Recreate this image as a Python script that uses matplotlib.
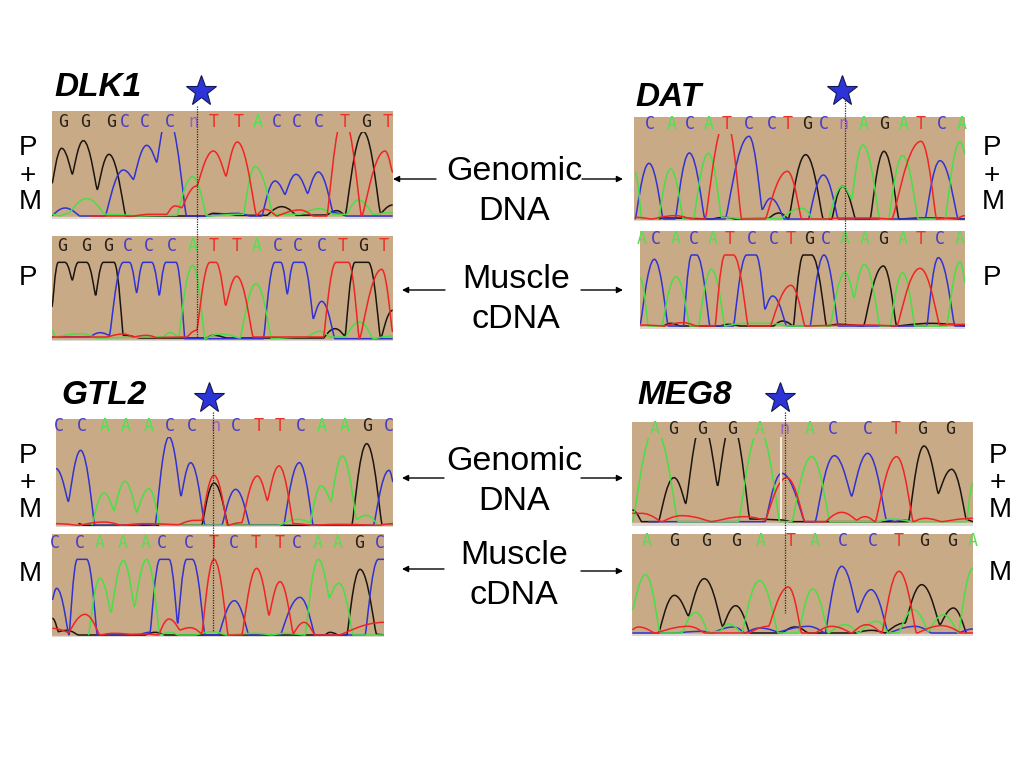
import matplotlib
matplotlib.use("Agg")
from matplotlib import pyplot as plt
from matplotlib.patches import PathPatch, Rectangle
from matplotlib.path import Path

# traces: (scan position, signal) at each peak and valley
dlk1_gen_g = [(36,98),(65,203),(97,126),(130,226),(172,80),(207,185),(258,0),(500,0),(520,8),(555,6),(590,2),(680,2),(725,28),(770,2),(860,3),(890,16),(915,2),(970,253),(1022,8),(1058,33)]
dlk1_gen_c = [(36,2),(75,24),(120,0),(195,0),(250,138),(280,110),(320,212),(350,162),(383,300),(440,0),(500,0),(590,8),(630,0),(665,0),(705,105),(735,65),(768,125),(803,68),(835,132),(880,10),(920,0),(1058,0)]
dlk1_gen_a = [(36,5),(60,0),(85,8),(140,52),(195,5),(300,0),(410,2),(458,118),(500,0),(610,5),(645,148),(700,5),(780,5),(840,22),(880,5),(920,5),(955,48),(1000,5),(1058,10)]
dlk1_gen_t = [(150,0),(280,0),(330,5),(380,5),(405,30),(425,25),(470,90),(520,195),(558,120),(592,222),(650,2),(675,20),(710,0),(780,18),(820,0),(860,0),(910,300),(965,0),(1035,195),(1058,130)]

dlk1_cdna_g = [(36,95),(55,229),(75,229),(97,175),(115,229),(140,229),(167,130),(190,229),(222,229),(250,10),(300,2),(500,2),(520,10),(560,2),(850,2),(885,30),(915,8),(945,229),(985,229),(1022,0),(1058,85)]
dlk1_cdna_c = [(36,5),(150,6),(180,18),(208,10),(250,229),(268,229),(290,137),(310,229),(335,229),(358,130),(378,229),(408,229),(435,0),(670,0),(705,229),(722,229),(742,133),(762,229),(790,229),(820,60),(845,112),(885,0),(1058,0)]
dlk1_cdna_a = [(36,25),(45,5),(125,15),(170,2),(370,5),(390,18),(415,5),(458,220),(495,0),(540,14),(600,2),(648,165),(695,0),(800,5),(840,22),(870,5),(915,5),(958,50),(1000,0),(1058,8)]
dlk1_cdna_t = [(36,5),(200,5),(250,14),(280,5),(320,10),(350,3),(440,5),(470,25),(510,229),(528,229),(557,100),(590,187),(640,5),(850,5),(888,229),(925,229),(958,0),(1025,208),(1058,20)]

dat_gen_c = [(30,0),(72,167),(115,0),(150,0),(193,198),(240,0),(300,0),(372,248),(412,28),(437,62),(478,0),(550,0),(595,132),(640,0),(830,0),(900,0),(945,175),(1000,0),(1020,0)]
dat_gen_a = [(30,140),(50,0),(100,0),(137,150),(175,0),(205,0),(250,197),(290,5),(345,2),(420,2),(465,0),(530,32),(565,0),(610,0),(652,98),(680,60),(713,222),(765,0),(790,0),(833,190),(880,0),(960,0),(1005,232),(1020,195)]
dat_gen_t = [(30,5),(80,0),(150,10),(200,0),(240,0),(303,300),(350,0),(420,0),(487,143),(530,0),(600,0),(660,3),(730,3),(800,0),(888,233),(935,0),(1000,3),(1020,10)]
dat_gen_g = [(100,0),(120,3),(260,0),(300,5),(330,0),(430,2),(462,18),(490,0),(542,193),(595,0),(620,0),(652,98),(692,0),(735,0),(777,203),(822,0),(900,3),(1020,0)]

dat_cdna_c = [(30,5),(73,200),(115,0),(160,0),(185,213),(200,213),(240,0),(310,0),(350,213),(378,213),(405,50),(428,90),(470,0),(540,0),(582,213),(625,0),(890,0),(925,205),(975,0),(1005,0)]
dat_cdna_a = [(30,145),(55,0),(95,0),(138,148),(180,0),(205,0),(245,170),(285,0),(345,8),(420,8),(470,0),(600,0),(645,160),(672,85),(703,185),(750,0),(780,0),(818,160),(855,0),(950,0),(990,193),(1005,130)]
dat_cdna_t = [(30,3),(100,0),(158,10),(200,0),(255,0),(285,213),(310,213),(355,0),(420,0),(483,122),(525,0),(700,3),(800,0),(870,173),(930,3),(1005,5)]
dat_cdna_g = [(100,0),(122,8),(150,0),(270,0),(295,5),(330,0),(430,0),(458,15),(490,0),(520,213),(545,213),(590,0),(625,5),(700,0),(760,180),(800,0),(905,8),(960,5),(1005,0)]

gtl2_gen_c = [(33,170),(70,72),(107,225),(150,0),(280,0),(295,3),(330,0),(372,265),(408,88),(437,188),(480,0),(530,0),(572,108),(615,0),(715,0),(763,188),(805,0),(985,0),(1032,165),(1044,130)]
gtl2_gen_a = [(140,0),(177,97),(207,45),(240,132),(275,40),(312,110),(345,0),(700,0),(760,18),(795,8),(828,118),(858,72),(892,208),(935,18),(965,30),(1000,0),(1044,0)]
gtl2_gen_t = [(33,5),(100,0),(177,10),(230,0),(300,5),(400,2),(450,15),(470,15),(507,150),(548,0),(590,8),(637,148),(667,75),(702,178),(745,5),(800,0),(880,3),(1000,0),(1044,5)]
gtl2_gen_g = [(100,5),(115,0),(300,0),(470,0),(507,127),(550,0),(870,0),(920,0),(965,245),(1012,0),(1044,0)]

gtl2_cdna_c = [(22,105),(35,140),(72,0),(97,227),(125,227),(157,0),(280,0),(315,8),(345,227),(372,227),(398,35),(425,227),(442,227),(480,0),(520,0),(568,103),(612,0),(705,0),(765,113),(810,0),(960,0),(1000,227),(1017,227)]
gtl2_cdna_a = [(130,0),(165,170),(198,68),(235,223),(268,85),(305,227),(345,0),(375,8),(400,0),(450,0),(500,10),(545,0),(630,5),(680,0),(720,5),(780,0),(820,227),(853,112),(882,155),(925,0),(1017,0)]
gtl2_cdna_t = [(22,20),(70,8),(120,62),(165,0),(205,5),(260,2),(300,3),(340,0),(372,48),(405,15),(435,22),(470,5),(507,227),(550,0),(590,0),(635,200),(672,60),(705,160),(745,5),(777,38),(810,0),(880,0),(1017,38)]
gtl2_cdna_g = [(22,50),(40,10),(65,14),(100,0),(300,0),(330,8),(360,0),(840,0),(855,8),(880,0),(905,0),(945,197),(995,2),(1017,0)]

meg8_gen_a = [(22,0),(90,280),(160,0),(340,0),(403,275),(465,0),(500,0),(560,195),(615,0),(760,0),(800,8),(860,0),(1025,0),(1044,115)]
meg8_gen_g = [(22,35),(50,0),(100,0),(147,132),(182,55),(232,300),(278,108),(320,300),(375,8),(470,5),(495,0),(850,0),(897,227),(940,85),(980,157),(1025,5),(1044,0)]
meg8_gen_c = [(70,0),(105,0),(420,0),(470,145),(540,0),(570,0),(628,198),(680,77),(728,205),(785,5),(810,0),(835,5),(860,0)]
meg8_gen_t = [(22,25),(50,25),(110,0),(170,18),(260,0),(360,15),(420,5),(485,132),(540,0),(600,0),(650,28),(695,5),(720,15),(750,0),(815,195),(865,0),(900,10),(950,0),(1044,10)]

meg8_cdna_a = [(22,70),(62,175),(105,0),(170,0),(212,62),(250,0),(285,5),(310,27),(350,0),(403,157),(460,0),(520,0),(563,132),(610,0),(660,25),(700,0),(755,35),(790,0),(820,0),(865,70),(910,5),(955,55),(1000,0),(1044,195)]
meg8_cdna_g = [(100,0),(148,113),(190,52),(238,163),(293,20),(332,82),(375,0),(470,0),(510,18),(550,0),(690,0),(740,8),(780,0),(840,30),(890,145),(945,25),(985,75),(1025,0)]
meg8_cdna_c = [(22,0),(150,0),(230,5),(260,0),(325,18),(360,0),(405,15),(460,3),(550,20),(600,0),(650,200),(698,62),(738,130),(790,0),(870,20),(920,0),(1000,0),(1044,12)]
meg8_cdna_t = [(22,10),(40,18),(90,0),(190,20),(240,0),(370,0),(430,20),(490,138),(530,0),(570,0),(620,20),(680,0),(725,25),(770,0),(822,185),(875,0),(950,22),(1010,0),(1044,0)]

# base calls and the scan position they sit at
dlk1_gen_bases = list("GGGCCCnTTACCCTGT")
dlk1_gen_pos = [68,135,212,255,315,390,460,522,597,652,710,772,838,913,978,1042]
dlk1_cdna_bases = list("GGGCCCATTACCCTGT")
dlk1_cdna_pos = [65,138,203,265,328,397,457,522,590,650,713,775,847,907,970,1030]
dat_gen_bases = list("CACATCCTGCnAGATCA")
dat_gen_pos = [75,140,195,250,305,373,440,488,547,597,655,717,778,835,888,950,1010]
dat_cdna_bases = list("ACACATCCTGCAAGATCA")
dat_cdna_pos = [35,78,137,193,247,300,365,433,483,537,587,645,703,760,818,873,930,990]
gtl2_gen_bases = list("CCAAACCnCTTCAAGC")
gtl2_gen_pos = [43,110,180,243,312,375,440,510,573,642,705,768,830,900,967,1032]
gtl2_cdna_bases = list("CCAAACCTCTTCAAGC")
gtl2_cdna_pos = [30,105,165,233,302,352,433,505,567,632,703,755,817,878,943,1005]
meg8_gen_bases = list("AGGGAnACCTGG")
meg8_gen_pos = [90,145,230,320,403,478,555,625,730,813,890,975]
meg8_cdna_bases = list("AGGGATACCTGGA")
meg8_cdna_pos = [65,148,243,333,407,498,568,653,743,820,897,980,1044]

# crop origin, left, right, top, bottom, baseline, letter row, signal clip
panel_boxes = [
    (40,100,36,1058,33,356,348,65,253),
    (40,228,36,1058,25,340,332,55,232),
    (625,110,28,1020,20,332,327,43,255),
    (630,225,30,1005,18,312,303,42,216),
    (45,412,33,1044,22,344,340,43,265),
    (45,530,22,1017,12,320,315,38,230),
    (625,415,22,1044,22,332,320,43,250),
    (625,528,22,1044,18,324,315,40,230),
]
panel_traces = [
    (dlk1_gen_g, dlk1_gen_c, dlk1_gen_a, dlk1_gen_t, dlk1_gen_bases, dlk1_gen_pos),
    (dlk1_cdna_g, dlk1_cdna_c, dlk1_cdna_a, dlk1_cdna_t, dlk1_cdna_bases, dlk1_cdna_pos),
    (dat_gen_g, dat_gen_c, dat_gen_a, dat_gen_t, dat_gen_bases, dat_gen_pos),
    (dat_cdna_g, dat_cdna_c, dat_cdna_a, dat_cdna_t, dat_cdna_bases, dat_cdna_pos),
    (gtl2_gen_g, gtl2_gen_c, gtl2_gen_a, gtl2_gen_t, gtl2_gen_bases, gtl2_gen_pos),
    (gtl2_cdna_g, gtl2_cdna_c, gtl2_cdna_a, gtl2_cdna_t, gtl2_cdna_bases, gtl2_cdna_pos),
    (meg8_gen_g, meg8_gen_c, meg8_gen_a, meg8_gen_t, meg8_gen_bases, meg8_gen_pos),
    (meg8_cdna_g, meg8_cdna_c, meg8_cdna_a, meg8_cdna_t, meg8_cdna_bases, meg8_cdna_pos),
]

trace_colors = ["#1c1410", "#3232d2", "#46e046", "#f02424"]
base_colors = {"G": "#2a2018", "C": "#4a3cc8", "A": "#52e052", "T": "#ec3228", "n": "#9a60c0"}

plt.rcParams['font.family'] = ['Liberation Sans', 'DejaVu Sans']

W, H = 1024, 768
fig = plt.figure(figsize=(W / 100, H / 100), dpi=100, facecolor="white")


def smooth_path(points):
    # long flat handle at the high end keeps the peak tops round, short one keeps valleys tight
    verts = [points[0]]
    codes = [Path.MOVETO]
    for (x0, y0), (x1, y1) in zip(points[:-1], points[1:]):
        dx = x1 - x0
        h0 = 0.5 if y0 >= y1 else 0.12
        h1 = 0.5 if y1 > y0 else 0.12
        verts += [(x0 + h0 * dx, y0), (x1 - h1 * dx, y1), (x1, y1)]
        codes += [Path.CURVE4] * 3
    return Path(verts, codes)


def draw_panel(box, traces):
    cx, cy, left, right, top, bottom, base, letter_y, clip = box
    ax = fig.add_axes([
        (cx + left / 3) / W,
        1 - (cy + bottom / 3) / H,
        (right - left) / 3 / W,
        (bottom - top) / 3 / H,
    ])
    ax.set_xlim(left, right)
    ax.set_ylim(base - bottom, base - top)
    ax.set_facecolor("#c8ab86")
    ax.set_xticks([])
    ax.set_yticks([])
    for spine in ax.spines.values():
        spine.set_visible(False)
    ax.axhspan(base - bottom, -3, color="#ddd8d2", zorder=1)
    for points, color in zip(traces[:4], trace_colors):
        patch = PathPatch(smooth_path(points), fill=False, edgecolor=color, lw=1.1, zorder=3)
        ax.add_patch(patch)
        patch.set_clip_path(Rectangle((left, -3), right - left, clip + 3, transform=ax.transData))
    for letter, pos in zip(traces[4], traces[5]):
        ax.text(pos, base - letter_y, letter, color=base_colors[letter], family="DejaVu Sans Mono",
                fontsize=12, ha="center", va="center", zorder=4)


for box, traces in zip(panel_boxes, panel_traces):
    draw_panel(box, traces)

# overlay in picture pixels for the text, arrows, stars and cursor lines
over = fig.add_axes([0, 0, 1, 1], zorder=10)
over.set_xlim(0, W)
over.set_ylim(H, 0)
over.axis("off")

titles = [("DLK1", 54, 88), ("DAT", 635, 97), ("GTL2", 61, 396), ("MEG8", 637, 396)]
for name, x, y in titles:
    over.text(x, y, name, fontsize=24, fontweight="bold", fontstyle="italic", ha="left", va="center")

center_labels = [("Genomic", 514, 172), ("DNA", 514, 212), ("Muscle", 516, 279), ("cDNA", 516, 319),
                 ("Genomic", 514, 462), ("DNA", 514, 502), ("Muscle", 514, 556), ("cDNA", 514, 596)]
for label, x, y in center_labels:
    over.text(x, y, label, fontsize=24.5, ha="center", va="center")

side_labels = [("P", 28, 148), ("+", 28, 176), ("M", 30, 202), ("P", 28, 278),
               ("P", 992, 148), ("+", 992, 176), ("M", 993, 202), ("P", 992, 278),
               ("P", 28, 456), ("+", 28, 483), ("M", 30, 510), ("M", 30, 574),
               ("P", 998, 456), ("+", 998, 483), ("M", 1000, 510), ("M", 1000, 573)]
for label, x, y in side_labels:
    over.text(x, y, label, fontsize=20, ha="center", va="center")

arrows = [(436, 393, 179), (582, 623, 179), (445, 402, 290), (581, 623, 290),
          (444, 402, 478), (581, 623, 478), (444, 402, 569), (581, 623, 571)]
for x0, x1, y in arrows:
    over.annotate("", xy=(x1, y), xytext=(x0, y),
                  arrowprops=dict(arrowstyle="-|>", color="black", lw=1, mutation_scale=9,
                                  shrinkA=0, shrinkB=0))

star_x = [201, 842, 209, 780]
star_y = [91, 91, 398, 398]
over.plot(star_x, star_y, ls="none", marker="*", ms=23, mfc="#2c34d8", mec="#141850", mew=0.8)

cursors = [(196.5, 106, 338), (844.5, 100, 325), (213, 412, 632), (785, 412, 613)]
for x, y0, y1 in cursors:
    over.plot([x, x], [y0, y1], color="#2a2a2a", lw=0.9, ls=(0, (1, 1)))
over.plot([781, 781], [438, 518], color="#f4f0e0", lw=1.4)

fig.savefig("out.png", dpi=100)
